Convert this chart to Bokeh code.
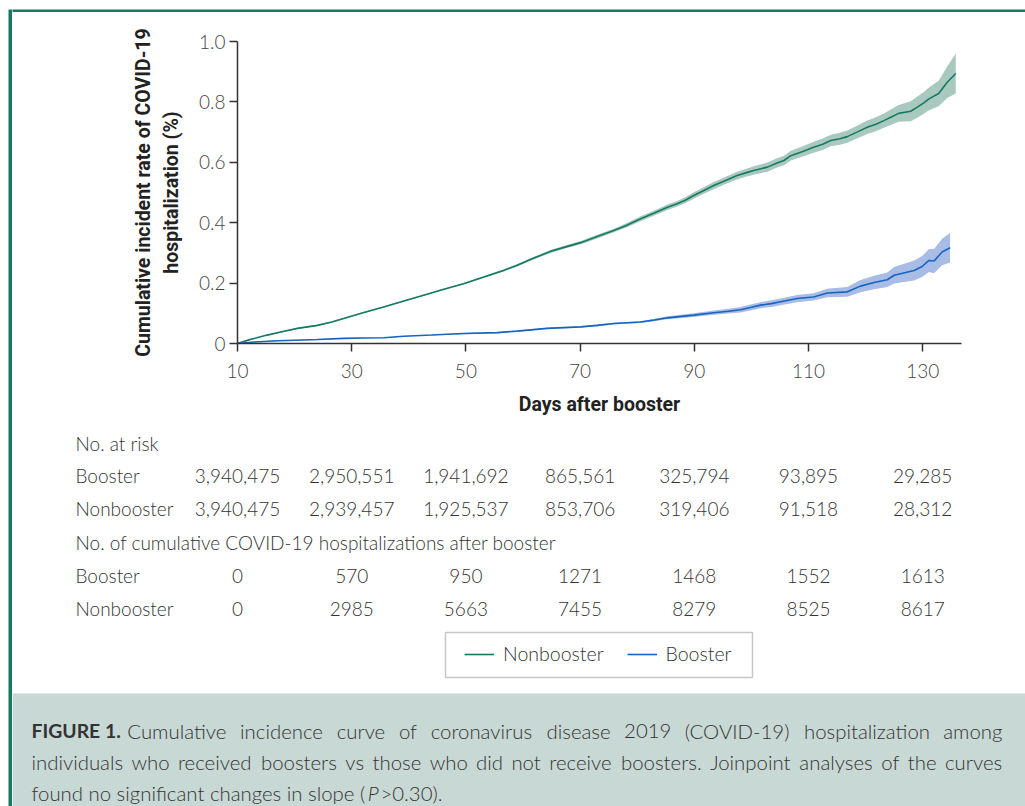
import glob
import struct
import subprocess

from bokeh.plotting import figure
from bokeh.layouts import row, column
from bokeh.models import (FixedTicker, Legend, LegendItem, BoxAnnotation,
                          Range1d, CustomJSTickFormatter)
from bokeh.core.properties import value
from bokeh.embed import file_html
from bokeh.resources import INLINE

# ---------------- data ----------------
x_ticks = [10, 30, 50, 70, 90, 110, 130]
y_ticks = [0, 0.2, 0.4, 0.6, 0.8, 1.0]

nb_days = [10, 12, 15, 18, 20.5, 24, 26.5, 28.6, 32, 35.6, 39, 42.6, 46, 49.6, 53, 56.6,
           59, 61.3, 64.8, 67.5, 70.1, 73, 75.9, 78, 80.6, 83, 85.3, 87, 88.5, 89.9, 91.5,
           93.4, 95.5, 97.5, 99, 100.4, 102.8, 104.5, 105.7, 106.9, 109, 110.9, 112.5, 113.9,
           115.5, 116.8, 118.5, 120.3, 121.8, 123.2, 124.5, 125.8, 127.9, 129.0, 130.2,
           131.1, 132.8, 134.3, 135.8]
nb_rate = [0, 0.012, 0.027, 0.040, 0.050, 0.060, 0.071, 0.083, 0.102, 0.121, 0.140, 0.160,
           0.179, 0.198, 0.219, 0.242, 0.259, 0.278, 0.305, 0.320, 0.334, 0.354, 0.374, 0.390,
           0.413, 0.432, 0.451, 0.463, 0.475, 0.490, 0.505, 0.523, 0.540, 0.556, 0.565, 0.573,
           0.584, 0.598, 0.606, 0.622, 0.636, 0.650, 0.660, 0.672, 0.678, 0.685, 0.700, 0.716,
           0.726, 0.738, 0.750, 0.762, 0.769, 0.782, 0.797, 0.810, 0.828, 0.865, 0.894]
nb_half = [0, 0.001, 0.001, 0.002, 0.002, 0.002, 0.002, 0.002, 0.002, 0.002, 0.002, 0.002,
           0.002, 0.002, 0.003, 0.004, 0.004, 0.004, 0.005, 0.005, 0.005, 0.006, 0.006, 0.007,
           0.008, 0.008, 0.009, 0.009, 0.010, 0.011, 0.011, 0.012, 0.012, 0.013, 0.013, 0.014,
           0.015, 0.015, 0.016, 0.016, 0.017, 0.018, 0.019, 0.019, 0.020, 0.020, 0.021, 0.022,
           0.023, 0.024, 0.026, 0.028, 0.033, 0.035, 0.036, 0.038, 0.042, 0.052, 0.066]

b_days = [10, 13, 17, 20, 24, 28.6, 32, 35.6, 39.1, 44, 49.6, 55.5, 59, 64.2, 70.1, 73,
          75.9, 80.6, 83, 85.3, 89.9, 93.4, 96, 98.1, 100, 101.6, 103.5, 105.1, 108.0, 110.9,
          113.3, 116.8, 119.1, 121.5, 123.8, 125.0, 128.5, 129.9, 131.1, 132.0, 133.4, 134.8]
b_rate = [0, 0.005, 0.009, 0.011, 0.013, 0.017, 0.018, 0.019, 0.024, 0.028, 0.033, 0.036,
          0.041, 0.050, 0.055, 0.060, 0.066, 0.071, 0.078, 0.085, 0.094, 0.102, 0.107, 0.112,
          0.120, 0.127, 0.132, 0.138, 0.149, 0.154, 0.167, 0.171, 0.190, 0.202, 0.211, 0.226,
          0.242, 0.255, 0.275, 0.273, 0.303, 0.317]
b_half = [0, 0.001, 0.001, 0.001, 0.001, 0.001, 0.001, 0.001, 0.001, 0.001, 0.002, 0.002,
          0.002, 0.002, 0.002, 0.003, 0.003, 0.003, 0.004, 0.005, 0.006, 0.007, 0.008, 0.009,
          0.010, 0.010, 0.011, 0.011, 0.012, 0.012, 0.014, 0.016, 0.020, 0.022, 0.024, 0.027,
          0.033, 0.035, 0.038, 0.040, 0.044, 0.049]

table_headers = ["No. at risk", "No. of cumulative COVID-19 hospitalizations after booster"]
row_labels = ["Booster", "Nonbooster", "Booster", "Nonbooster"]
booster_at_risk = [3940475, 2950551, 1941692, 865561, 325794, 93895, 29285]
nonbooster_at_risk = [3940475, 2939457, 1925537, 853706, 319406, 91518, 28312]
booster_hosp = [0, 570, 950, 1271, 1468, 1552, 1613]
nonbooster_hosp = [0, 2985, 5663, 7455, 8279, 8525, 8617]

caption_bold = "FIGURE 1."
caption_line1 = "Cumulative incidence curve of coronavirus disease 2019 (COVID-19) hospitalization among"
caption_line2 = "individuals who received boosters vs those who did not receive boosters. Joinpoint analyses of the curves"
caption_line3 = "found no significant changes in slope ("
caption_italic = "P"
caption_end = ">0.30)."

# ---------------- styles / layout ----------------
TEAL = "#13795f"
GREEN, GREEN_BAND = "#157a62", "#a9c9bf"
BLUE, BLUE_BAND = "#1565c0", "#a8bce6"
LIGHT = "Lato Light"
BOLD = "Roboto"
TXT = "#333333"
TOTAL_W, TOTAL_H = 1025, 806
LEFT_W, TOP_H = 12, 12
W = TOTAL_W - LEFT_W
H_CHART = 408
H_BOT = TOTAL_H - TOP_H - H_CHART
FRAME_L, FRAME_W = 225, 724
X0, X1 = 10, 136.8


# ---- text measuring from the installed font files (for the justified caption) ----
def find_font(family, pattern):
    try:
        out = subprocess.run(["fc-match", "-f", "%{file}", family],
                             capture_output=True, text=True, timeout=10).stdout.strip()
        if out.lower().endswith(".ttf"):
            return out
    except Exception:
        pass
    hits = sorted(glob.glob("/usr/share/fonts/**/" + pattern, recursive=True))
    return hits[0] if hits else None


def make_measure(path, fallback):
    try:
        data = open(path, "rb").read()
        ntab = struct.unpack(">H", data[4:6])[0]
        tabs = {}
        for i in range(ntab):
            tag, _, off, ln = struct.unpack(">4sIII", data[12 + 16 * i:28 + 16 * i])
            tabs[tag.decode("latin1")] = off
        upem = struct.unpack(">H", data[tabs["head"] + 18:tabs["head"] + 20])[0]
        nhm = struct.unpack(">H", data[tabs["hhea"] + 34:tabs["hhea"] + 36])[0]
        hm = tabs["hmtx"]
        advs = [struct.unpack(">H", data[hm + 4 * i:hm + 4 * i + 2])[0] for i in range(nhm)]
        cm = tabs["cmap"]
        nsub = struct.unpack(">H", data[cm + 2:cm + 4])[0]
        sub = None
        for i in range(nsub):
            pid, eid, off = struct.unpack(">HHI", data[cm + 4 + 8 * i:cm + 12 + 8 * i])
            if struct.unpack(">H", data[cm + off:cm + off + 2])[0] == 4 and pid in (0, 3):
                sub = cm + off
                break
        sx2 = struct.unpack(">H", data[sub + 6:sub + 8])[0]
        nseg = sx2 // 2
        ends = struct.unpack(">%dH" % nseg, data[sub + 14:sub + 14 + sx2])
        so = sub + 16 + sx2
        starts = struct.unpack(">%dH" % nseg, data[so:so + sx2])
        deltas = struct.unpack(">%dh" % nseg, data[so + sx2:so + 2 * sx2])
        ro = so + 2 * sx2
        ros = struct.unpack(">%dH" % nseg, data[ro:ro + sx2])

        def gid(c):
            for k in range(nseg):
                if ends[k] >= c:
                    if starts[k] > c:
                        return 0
                    if ros[k] == 0:
                        return (c + deltas[k]) & 0xFFFF
                    addr = ro + 2 * k + ros[k] + 2 * (c - starts[k])
                    g = struct.unpack(">H", data[addr:addr + 2])[0]
                    return (g + deltas[k]) & 0xFFFF if g else 0
            return 0

        def measure(s, size):
            return sum(advs[min(gid(ord(ch)), nhm - 1)] for ch in s) * size / upem
        measure("test", 10)
        return measure
    except Exception:
        return lambda s, size: fallback * size * len(s)


light_w = make_measure(find_font("Lato Light", "Lato-Light.ttf"), 0.47)
bold_w = make_measure(find_font("Lato:bold", "Lato-Bold.ttf"), 0.55)

# caption geometry (px inside the lower panel): line 3 runs from 19 to ~428
CAP_L, CAP_R = 19, 990
full3 = caption_line3 + caption_italic + caption_end
CAP_SIZE = max(18.0, min(23.0, 20 * (428 - CAP_L) / max(light_w(full3, 20), 1)))
BOLD_SIZE = CAP_SIZE - 1


def justify(words, x_start, x_end, size):
    widths = [light_w(w, size) for w in words]
    gap = (x_end - x_start - sum(widths)) / (len(words) - 1)
    xs, x = [], x_start
    for wd in widths:
        xs.append(x)
        x += wd + gap
    return xs


def strip(width, height, left, top):
    f = figure(width=width, height=height, output_backend="svg", toolbar_location=None,
               x_axis_type=None, y_axis_type=None, title=None,
               min_border_left=left, min_border_top=top, min_border_right=0,
               min_border_bottom=0)
    f.background_fill_color = TEAL
    f.border_fill_color = "white"
    f.outline_line_color = None
    f.grid.visible = False
    f.frame_align = False
    return f


left_strip = strip(LEFT_W, TOTAL_H, 8, 9)
top_strip = strip(W, TOP_H, 0, 9)

# ---- chart ----
p = figure(width=W, height=H_CHART, output_backend="svg", toolbar_location=None,
           x_range=Range1d(X0, X1), y_range=Range1d(0, 1.0),
           min_border_left=FRAME_L, min_border_right=W - FRAME_L - FRAME_W,
           min_border_top=29, min_border_bottom=77)
p.frame_align = False
p.xgrid.visible = False
p.ygrid.visible = False
p.outline_line_color = None

p.varea(x=nb_days, y1=[r - h for r, h in zip(nb_rate, nb_half)],
        y2=[r + h for r, h in zip(nb_rate, nb_half)], fill_color=GREEN_BAND)
p.varea(x=b_days, y1=[r - h for r, h in zip(b_rate, b_half)],
        y2=[r + h for r, h in zip(b_rate, b_half)], fill_color=BLUE_BAND)
p.line(nb_days, nb_rate, line_color=GREEN, line_width=1.6)
p.line(b_days, b_rate, line_color=BLUE, line_width=1.6)

p.xaxis.ticker = FixedTicker(ticks=x_ticks)
p.yaxis.ticker = FixedTicker(ticks=y_ticks)
p.yaxis.formatter = CustomJSTickFormatter(code="return tick == 0 ? '0' : tick.toFixed(1);")
for ax in (p.xaxis[0], p.yaxis[0]):
    ax.axis_line_color = "#333333"
    ax.axis_line_width = 1.5
    ax.major_tick_line_color = "#333333"
    ax.major_tick_line_width = 1.5
    ax.major_tick_in = 0
    ax.major_tick_out = 8
    ax.minor_tick_line_color = None
    ax.major_label_text_font = LIGHT
    ax.major_label_text_font_size = "19px"
    ax.major_label_text_color = "#444444"
    ax.axis_label_text_font = BOLD
    ax.axis_label_text_font_style = "bold"
    ax.axis_label_text_font_size = "19.5px"
    ax.axis_label_text_color = "#222222"
p.yaxis.axis_label = "Cumulative incident rate of COVID-19\nhospitalization (%)"
p.xaxis.axis_label = "Days after booster"
p.yaxis.major_label_standoff = 4
p.yaxis.axis_label_standoff = 13
p.xaxis.major_label_standoff = 12
p.xaxis.axis_label_standoff = 12

# ---- table, legend and caption (frame covers the whole figure) ----
ppd = FRAME_W / (X1 - X0)
bx0 = X0 - FRAME_L / ppd
q = figure(width=W, height=H_BOT, output_backend="svg", toolbar_location=None,
           x_range=Range1d(bx0, bx0 + W / ppd), y_range=Range1d(H_BOT, 0),
           x_axis_type=None, y_axis_type=None, min_border=0, title=None)
q.frame_align = False
q.extra_x_ranges = {"px": Range1d(0, W)}
q.grid.visible = False
q.outline_line_color = None

q.add_layout(BoxAnnotation(left=0, right=W, top=273, bottom=H_BOT, x_range_name="px",
                           fill_color="#c8d8d5", fill_alpha=1, line_color=None,
                           level="underlay"))
q.add_layout(BoxAnnotation(left=433, right=740, top=212, bottom=257, x_range_name="px",
                           fill_color="white", fill_alpha=1, line_color="#444444",
                           line_width=1.5, level="underlay"))


def txt(x, y, t, size="19px", style="normal", align="left", rng="px", font=LIGHT):
    q.text(x=x, y=y, text=t, x_range_name=rng, text_font=value(font),
           text_font_size=size, text_font_style=style, text_color=TXT,
           text_align=align, text_baseline="alphabetic")


txt([63, 63], [23, 122], table_headers)
row_y = [55, 88, 155, 188]
row_vals = [[f"{v:,}" for v in booster_at_risk], [f"{v:,}" for v in nonbooster_at_risk],
            [str(v) for v in booster_hosp], [str(v) for v in nonbooster_hosp]]
txt([63] * 4, row_y, row_labels)
for yy, vals in zip(row_y, row_vals):
    txt(x_ticks, [yy] * len(x_ticks), vals, align="center", rng="default")

nan = float("nan")
lg_nb = q.line(x=[nan], y=[nan], line_color=GREEN, line_width=1.6)
lg_b = q.line(x=[nan], y=[nan], line_color=BLUE, line_width=1.6)
legend = Legend(items=[LegendItem(label="Nonbooster", renderers=[lg_nb]),
                       LegendItem(label="Booster", renderers=[lg_b])],
                orientation="horizontal", location=(452, H_BOT - 245), margin=0,
                border_line_color=None, background_fill_alpha=0, padding=0,
                spacing=23, glyph_width=30, glyph_height=10, label_height=10,
                label_standoff=9,
                label_text_font=LIGHT, label_text_font_size="19.5px", label_text_color=TXT)
q.add_layout(legend)

# caption: lines 1-2 justified (as in the reference), line 3 natural
cap_px = f"{CAP_SIZE:.2f}px"
cap_y = [310, 341, 372]
CAP_L1 = CAP_L + bold_w(caption_bold, BOLD_SIZE) + light_w(" ", CAP_SIZE) + 1
w1 = caption_line1.split(" ")
w2 = caption_line2.split(" ")
x1 = justify(w1, CAP_L1, CAP_R, CAP_SIZE)
x2 = justify(w2, CAP_L, CAP_R, CAP_SIZE)
txt([CAP_L], [cap_y[0]], [caption_bold], size=f"{BOLD_SIZE:.2f}px", style="bold", font="Lato")
txt(x1 + x2, [cap_y[0]] * len(w1) + [cap_y[1]] * len(w2), w1 + w2, size=cap_px)
xp = CAP_L + light_w(caption_line3, CAP_SIZE) + 1
txt([CAP_L], [cap_y[2]], [caption_line3], size=cap_px)
txt([xp], [cap_y[2]], [caption_italic], size=cap_px, style="italic")
txt([xp + light_w(caption_italic, CAP_SIZE) + 1], [cap_y[2]], [caption_end], size=cap_px)

layout = row(left_strip, column(top_strip, p, q))
open("out.html", "w").write(file_html(layout, INLINE))
